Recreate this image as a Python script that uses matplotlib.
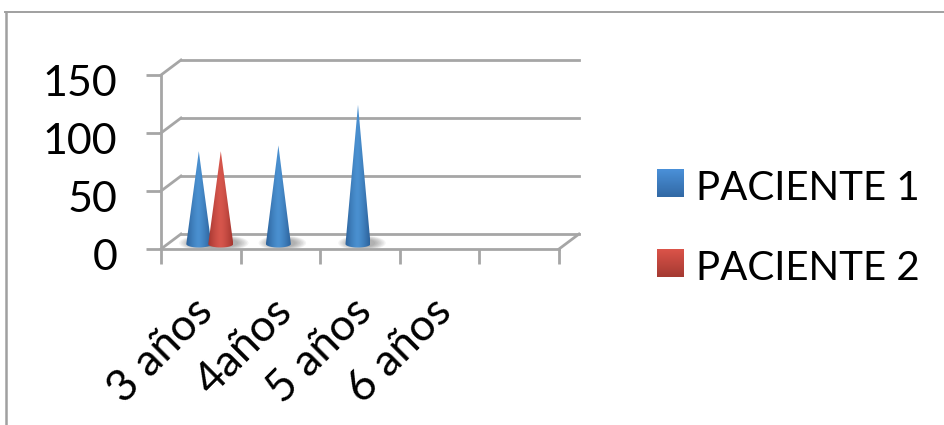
import matplotlib
matplotlib.use("Agg")
import matplotlib.pyplot as plt
import matplotlib.transforms as mtransforms
import numpy as np
from matplotlib.patches import Ellipse, Polygon

plt.rcParams['font.family'] = ['Lato', 'DejaVu Sans']

categories = ["3 años", "4años", "5 años", "6 años"]
n_slots = 5
paciente_1 = [80, 85, 120]
paciente_2 = [80]
y_ticks = [0, 50, 100, 150]
series_names = ["PACIENTE 1", "PACIENTE 2"]

W, H = 944, 425
GRAY = "#a6a6a6"
LW = 2.0

fig = plt.figure(figsize=(W / 100, H / 100), dpi=100)
ax = fig.add_axes([161 / W, 1 - 249 / H, 398 / W, 174 / H])
ax.set_xlim(0, n_slots)
ax.set_ylim(0, 150)
ax.patch.set_alpha(0)

# pseudo 3d depth in data units (19 px right, 15 px up)
px_x = n_slots / 398
px_y = 150 / 174
dx = 20 * px_x
dy = 15 * px_y

for v in y_ticks:
    ax.plot([0, dx], [v, v + dy], color=GRAY, lw=LW, clip_on=False, zorder=1)
    ax.plot([dx, n_slots + dx], [v + dy, v + dy], color=GRAY, lw=LW, clip_on=False, zorder=1)
ax.plot([n_slots, n_slots + dx], [0, dy], color=GRAY, lw=LW, clip_on=False, zorder=1)

for s in ["top", "right"]:
    ax.spines[s].set_visible(False)
for s in ["left", "bottom"]:
    ax.spines[s].set_color(GRAY)
    ax.spines[s].set_linewidth(LW)

ax.set_yticks(y_ticks)
ax.set_xticks(np.arange(n_slots + 1))
ax.set_xticklabels([])
ax.set_xticks(np.arange(len(categories)) + 0.5, minor=True)
ax.set_xticklabels(categories, minor=True, rotation=45, ha="right", va="top",
                   rotation_mode="anchor", fontsize=32)
ax.tick_params(axis="y", length=10.5, width=LW, color=GRAY, labelsize=31, pad=21)
ax.tick_params(axis="x", which="major", length=11, width=LW, color=GRAY)
ax.tick_params(axis="x", which="minor", length=0, pad=30)

# the labels sit a little below their ticks in the original
y_shift = mtransforms.ScaledTranslation(0, -6 / 100, fig.dpi_scale_trans)
for lab in ax.get_yticklabels():
    lab.set_transform(lab.get_transform() + y_shift)
x_shift = mtransforms.ScaledTranslation(-9 / 100, 0, fig.dpi_scale_trans)
for lab in ax.get_xticklabels(minor=True):
    lab.set_transform(lab.get_transform() + x_shift)


def shade(edge, mid, n=48):
    edge, mid = np.array(edge) / 255, np.array(mid) / 255
    t = 1 - np.abs(np.linspace(-1, 1, n)) ** 1.4
    return (edge[None, :] + (mid - edge)[None, :] * t[:, None])[None, :, :]


def draw_cone(x, value, edge, mid):
    half_w = 12.5 * px_x
    base = dy / 2 - 2.5 * px_y
    tip = base + value
    ell_h = 3.5 * px_y
    # soft shadow on the floor, stacked ellipses fake the blur
    for k in np.linspace(1.0, 0.55, 8):
        ax.add_patch(Ellipse((x + 4 * px_x, base + 1 * px_y), 2 * half_w * 1.9 * k, 15 * px_y * k,
                             facecolor="#555555", edgecolor="none", alpha=0.07, zorder=2, clip_on=False))
    th = np.linspace(np.pi, 2 * np.pi, 30)
    outline = [(x, tip)] + list(zip(x + half_w * np.cos(th), base + ell_h * np.sin(th)))
    clip = Polygon(outline, closed=True, transform=ax.transData, facecolor="none", edgecolor="none")
    ax.add_patch(clip)
    im = ax.imshow(shade(edge, mid), extent=[x - half_w, x + half_w, base - ell_h, tip],
                   aspect="auto", zorder=3, interpolation="bilinear")
    im.set_clip_path(clip)


shift = dx / 2
gap = 11 * px_x
for i, v in enumerate(paciente_1):
    draw_cone(i + 0.5 + shift - gap - 1 * px_x, v, (44, 98, 155), (74, 144, 208))
for i, v in enumerate(paciente_2):
    draw_cone(i + 0.5 + shift + gap - 1 * px_x, v, (165, 54, 48), (214, 86, 76))
ax.set_xlim(0, n_slots)
ax.set_ylim(0, 150)

# legend
swatches = [((74, 144, 216), (50, 105, 165)), ((220, 84, 74), (165, 58, 50))]
for name, (top, bottom), y_px in zip(series_names, swatches, [183, 263]):
    sw = fig.add_axes([657 / W, 1 - (y_px + 14) / H, 27 / W, 28 / H])
    grad = np.linspace(np.array(top), np.array(bottom), 32)[:, None, :] / 255
    sw.imshow(grad, aspect="auto")
    sw.axis("off")
    fig.text(696 / W, 1 - (y_px + 6) / H, name, fontsize=29, va="center", ha="left", color="black")

# outer frame of the pasted chart
fig.add_artist(plt.Line2D([5.5 / W, 5.5 / W], [0, 1 - 12 / H], color="#a0a0a0", lw=1.8))
fig.add_artist(plt.Line2D([5 / W, 1], [1 - 12 / H, 1 - 12 / H], color="#a0a0a0", lw=1.4))

fig.savefig("out.png", dpi=100)
